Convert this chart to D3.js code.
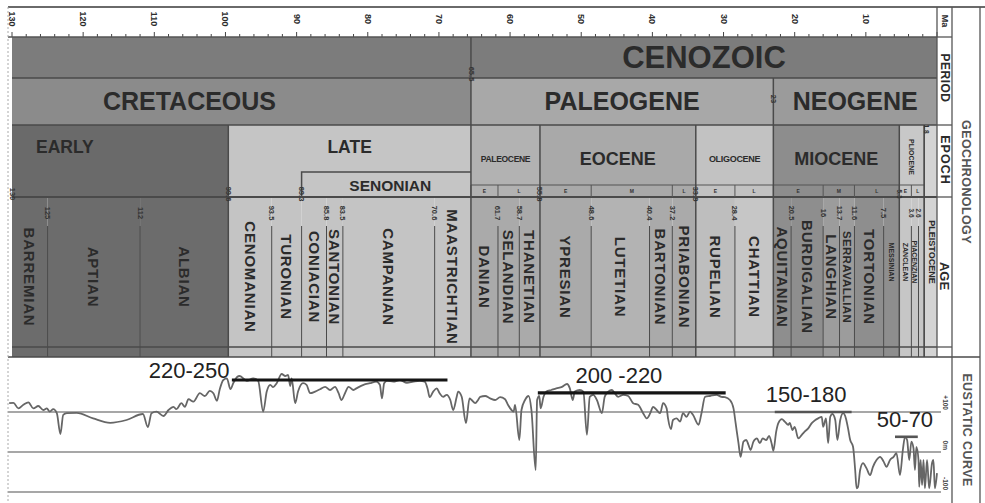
<!DOCTYPE html>
<html>
<head>
<meta charset="utf-8">
<script src="https://cdnjs.cloudflare.com/ajax/libs/d3/7.8.5/d3.min.js"></script>
<style>
body { margin: 0; background: #fff; }
svg { display: block; }
text { font-family: "Liberation Sans", Arial, sans-serif; }
</style>
</head>
<body>
<svg id="chart" width="985" height="503"></svg>
<script>
// ---- data (ages in Ma, sea level in m) ----
const eras = [["", 130, 65.5], ["CENOZOIC", 65.5, 0]];
const periods = [["CRETACEOUS", 130, 65.5], ["PALEOGENE", 65.5, 23], ["NEOGENE", 23, 0]];
const epochs = [["EARLY", 130, 99.6], ["LATE", 99.6, 65.5], ["PALEOCENE", 65.5, 55.8], ["EOCENE", 55.8, 33.9],
  ["OLIGOCENE", 33.9, 23], ["MIOCENE", 23, 5.3], ["PLIOCENE", 5.3, 1.8], ["", 1.8, 0]];
const subEpochs = [["E", 65.5, 61.7], ["L", 61.7, 55.8], ["E", 55.8, 48.6], ["M", 48.6, 37.2], ["L", 37.2, 33.9],
  ["E", 33.9, 28.4], ["L", 28.4, 23], ["E", 23, 16], ["M", 16, 11.6], ["L", 11.6, 5.3], ["E", 5.3, 3.6], ["L", 3.6, 1.8]];
const senonian = ["SENONIAN", 89.3, 65.5];
const stages = [["BARREMIAN", 130, 125], ["APTIAN", 125, 112], ["ALBIAN", 112, 99.6], ["CENOMANIAN", 99.6, 93.5],
  ["TURONIAN", 93.5, 89.3], ["CONIACIAN", 89.3, 85.8], ["SANTONIAN", 85.8, 83.5], ["CAMPANIAN", 83.5, 70.6],
  ["MAASTRICHTIAN", 70.6, 65.5], ["DANIAN", 65.5, 61.7], ["SELANDIAN", 61.7, 58.7], ["THANETIAN", 58.7, 55.8],
  ["YPRESIAN", 55.8, 48.6], ["LUTETIAN", 48.6, 40.4], ["BARTONIAN", 40.4, 37.2], ["PRIABONIAN", 37.2, 33.9],
  ["RUPELIAN", 33.9, 28.4], ["CHATTIAN", 28.4, 23], ["AQUITANIAN", 23, 20.5], ["BURDIGALIAN", 20.5, 16],
  ["LANGHIAN", 16, 13.7], ["SERRAVALLIAN", 13.7, 11.6], ["TORTONIAN", 11.6, 7.5], ["MESSINIAN", 7.5, 5.3],
  ["ZANCLEAN", 5.3, 3.6], ["PIACENZIAN", 3.6, 2.6], ["", 2.6, 1.8], ["PLEISTOCENE", 1.8, 0]];
const boundaryLabels = ["130", "125", "112", "99.6", "93.5", "89.3", "85.8", "83.5", "70.6", "61.7", "58.7", "55.8",
  "48.6", "40.4", "37.2", "33.9", "28.4", "20.5", "16", "13.7", "11.6", "7.5", "5.3", "3.6", "2.6"];
const epochBoundaries = ["130", "99.6", "89.3", "55.8", "33.9", "5.3"];
const maTicks = [130, 120, 110, 100, 90, 80, 70, 60, 50, 40, 30, 20, 10];
const levelTicks = [100, 0, -100];
const levelTickLabels = ["+100", "0m", "-100"];

const curveAge = [130.4,129.8,129.1,128.4,127.7,127.0,126.3,125.6,125.1,124.7,124.2,123.7,123.2,122.8,122.3,120.9,118.6,116.2,113.9,111.6,
  110.9,110.4,109.7,108.7,108.0,107.3,106.9,106.2,105.7,105.2,104.5,103.6,102.9,102.2,101.7,101.2,100.8,100.3,99.8,99.3,98.9,98.4,98.0,97.0,
  96.1,95.4,94.7,94.2,93.7,93.3,92.8,92.1,91.6,91.2,90.9,90.7,90.2,89.8,89.1,88.6,88.1,87.4,86.7,86.0,
  85.3,84.6,84.1,83.7,83.2,82.7,82.0,81.6,80.6,79.7,78.8,78.3,78.0,77.7,77.3,76.4,75.5,74.5,73.6,72.7,
  72.0,71.6,71.3,70.8,70.3,69.9,69.4,68.9,68.4,68.0,67.5,67.3,66.8,66.2,65.7,65.4,64.9,64.5,
  64.2,63.5,62.8,62.1,61.4,60.7,60.3,59.8,59.5,59.3,58.7,58.4,57.9,57.4,57.0,56.4,56.2,55.9,55.7,55.3,
  54.9,54.2,53.5,52.7,52.0,51.6,51.2,50.9,50.2,49.7,49.2,48.8,48.3,47.8,47.1,46.7,46.2,45.7,45.3,44.8,
  44.1,43.4,42.7,42.0,41.3,40.8,40.3,39.9,39.4,38.9,38.5,38.0,37.8,37.4,37.1,36.6,36.1,35.7,35.2,34.7,
  34.3,33.5,33.1,32.6,31.9,31.0,30.3,
  29.8,29.1,28.6,28.3,27.9,27.6,27.2,26.8,26.5,26.2,25.8,25.3,24.9,24.5,24.0,23.6,23.2,23.0,22.6,22.3,
  21.8,21.4,20.9,20.7,20.3,20.0,19.5,19.0,18.6,18.1,17.6,17.1,16.7,16.2,16.0,15.6,15.3,15.0,14.7,14.3,
  14.0,13.6,13.2,12.8,12.5,12.2,11.8,11.5,11.3,11.1,10.8,10.4,9.9,9.4,9.0,8.5,8.0,7.5,7.1,6.6,
  6.1,5.7,5.2,4.8,4.5,4.2,3.9,3.6,3.3,3.1,2.9,2.6,2.5,2.3,2.1,1.9,1.7,1.4,1.1,0.7,0.5,0.3,0.0];
const curveLevel = [122,123,109,118,124,109,115,105,109,101,107,97,45,93,97,98,84,73,80,95,
  62,97,101,90,105,113,107,122,113,132,126,147,140,153,147,128,157,180,184,157,172,187,190,178,
  184,178,101,151,168,162,172,195,190,193,165,184,122,151,172,168,147,151,157,163,
  155,163,147,130,147,163,155,159,168,172,176,168,134,172,178,176,180,173,176,178,
  176,159,137,151,159,147,138,143,130,105,138,151,138,72,134,130,122,130,
  138,140,134,130,137,132,118,105,101,118,30,105,130,140,105,-45,130,140,109,138,
  151,155,159,163,170,159,130,151,155,151,43,138,143,130,97,138,151,155,147,138,
  143,140,122,118,97,84,97,113,105,97,122,109,84,57,80,84,76,97,88,101,
  93,68,97,138,140,143,138,
  137,130,109,72,22,-12,26,30,18,5,26,34,22,34,30,40,18,3,51,72,
  82,76,68,73,55,63,34,43,51,59,72,80,84,88,63,84,22,88,95,80,
  30,80,97,84,59,30,13,-45,-91,-87,-45,-28,-41,-58,-37,-20,-12,-24,-37,-20,
  -12,-3,-58,5,38,30,-20,26,9,-45,13,-20,-87,-20,-83,-20,-91,-20,-91,-28,-20,-91,-53];

// highstand annotations: label, from Ma, to Ma, level (m), label centre Ma
const highstands = [["220-250", 99.1, 68.8, 180, 105.1], ["200 -220", 56.1, 29.7, 148, 44.7],
  ["150-180", 22.8, 12.0, 100, 18.4], ["50-70", 5.9, 2.7, 38, 4.5]];

// ---- styles ----
const fills = {
  era: "#7c7c7c",
  CRETACEOUS: "#8b8b8b", PALEOGENE: "#a8a8a8", NEOGENE: "#9b9b9b",
  EARLY: "#6a6a6a", LATE: "#c5c5c5", PALEOCENE: "#b2b2b2", EOCENE: "#a9a9a9", OLIGOCENE: "#c2c2c2",
  MIOCENE: "#8d8d8d", PLIOCENE: "#c8c8c8", "": "#d4d4d4"
};
const stageFill = d => {
  if (d[1] > 99.6) return "#6c6c6c";
  if (d[1] > 65.5) return "#c4c4c4";
  if (d[1] > 55.8) return "#aaaaaa";
  if (d[1] > 33.9) return d[0] === "LUTETIAN" ? "#b3b3b3" : "#aaaaaa";
  if (d[1] > 23) return d[0] === "RUPELIAN" ? "#bebebe" : "#c6c6c6";
  if (d[1] > 5.3) return (d[0] === "LANGHIAN" || d[0] === "SERRAVALLIAN") ? "#9c9c9c" : "#8e8e8e";
  return d[1] > 1.8 ? "#c6c6c6" : "#d4d4d4";
};
const ink = "#2b2b2b";

const svg = d3.select("#chart");
const x = d3.scaleLinear().domain([130, 0]).range([12, 937]);
const y = d3.scaleLinear().domain([-100, 100]).range([492, 412]);

const rows = { era: [37, 78], period: [78, 125], epoch: [125, 197], age: [197, 347], strip: [347, 357] };

function vtext(g, px, py, s, size, opts) {
  opts = opts || {};
  return g.append("text")
    .attr("transform", "translate(" + px + "," + py + ") rotate(90)")
    .attr("text-anchor", opts.anchor || "middle")
    .attr("dominant-baseline", "central")
    .style("font-size", size + "px")
    .style("font-weight", opts.weight || "bold")
    .style("letter-spacing", (opts.spacing || 0) + "px")
    .attr("fill", opts.fill || ink)
    .text(s);
}

function band(data, row, fillFn) {
  svg.append("g").selectAll("rect").data(data).enter().append("rect")
    .attr("x", d => x(d[1])).attr("width", d => x(d[2]) - x(d[1]))
    .attr("y", rows[row][0]).attr("height", rows[row][1] - rows[row][0])
    .attr("fill", fillFn);
}

// bands
band(eras, "era", () => fills.era);
band(periods, "period", d => fills[d[0]]);
band(epochs, "epoch", d => fills[d[0]]);
band(stages, "age", stageFill);
band(stages, "strip", stageFill);

// Ma ruler
const ruler = svg.append("g");
ruler.selectAll("line").data(d3.range(130, -1, -2)).enter().append("line")
  .attr("x1", d => x(d)).attr("x2", d => x(d))
  .attr("y1", d => d % 10 === 0 ? 32 : 34).attr("y2", 37)
  .attr("stroke", "#444").attr("stroke-width", 1);
maTicks.forEach(t => vtext(ruler, x(t), 19, String(t), 9));
svg.append("line").attr("x1", 8).attr("x2", 937).attr("y1", 37).attr("y2", 37).attr("stroke", "#555").attr("stroke-width", 1.5);

// row separators
[78, 125, 197, 347, 357].forEach(v => {
  svg.append("line").attr("x1", v === 357 ? 8 : 12).attr("x2", v === 357 ? 980 : 937)
    .attr("y1", v).attr("y2", v).attr("stroke", "#4a4a4a").attr("stroke-width", v === 197 ? 2 : 1.5);
});

// era / period / epoch text
svg.append("text").attr("x", (x(65.5) + x(0)) / 2).attr("y", 57).attr("text-anchor", "middle")
  .attr("dominant-baseline", "central").style("font-size", "31px").style("font-weight", "bold")
  .attr("fill", ink).text(eras[1][0]);
svg.append("g").selectAll("text").data(periods).enter().append("text")
  .attr("x", d => d[0] === "CRETACEOUS" ? (x(d[1]) + x(d[2])) / 2 - 52 : (x(d[1]) + x(d[2])) / 2)
  .attr("y", 101).attr("text-anchor", "middle").attr("dominant-baseline", "central")
  .style("font-size", "25px").style("font-weight", "bold").attr("fill", ink).text(d => d[0]);

const epochSize = { EARLY: 17.5, LATE: 17.5, PALEOCENE: 8.5, EOCENE: 18, OLIGOCENE: 9, MIOCENE: 18 };
const eg = svg.append("g");
epochs.forEach(d => {
  if (!epochSize[d[0]]) return;
  const early = d[0] === "EARLY";
  eg.append("text")
    .attr("x", early ? x(d[1]) + 24 : (x(d[1]) + x(d[2])) / 2)
    .attr("y", (early || d[0] === "LATE") ? 147 : 159)
    .attr("text-anchor", early ? "start" : "middle").attr("dominant-baseline", "central")
    .style("font-size", epochSize[d[0]] + "px").style("font-weight", "bold")
    .style("letter-spacing", d[0] === "PALEOCENE" || d[0] === "OLIGOCENE" ? "-0.3px" : "0px")
    .attr("fill", ink).text(d[0]);
});
vtext(eg, (x(5.3) + x(1.8)) / 2, 157, "PLIOCENE", 7);

// Senonian bracket
svg.append("path")
  .attr("d", "M" + x(senonian[1]) + "," + 197 + "V172H" + x(senonian[2]))
  .attr("fill", "none").attr("stroke", "#4a4a4a").attr("stroke-width", 1.5);
svg.append("text").attr("x", (x(senonian[1]) + x(senonian[2])) / 2 + 4).attr("y", 185)
  .attr("text-anchor", "middle").attr("dominant-baseline", "central")
  .style("font-size", "15.5px").style("font-weight", "bold").attr("fill", ink).text(senonian[0]);

// E / M / L sub-epoch strip
const sg = svg.append("g");
sg.append("line").attr("x1", x(65.5)).attr("x2", x(1.8)).attr("y1", 185).attr("y2", 185)
  .attr("stroke", "#555").attr("stroke-width", 1.2);
subEpochs.forEach(d => {
  sg.append("line").attr("x1", x(d[1])).attr("x2", x(d[1])).attr("y1", 185).attr("y2", 197)
    .attr("stroke", "#555").attr("stroke-width", 1);
  sg.append("text").attr("x", (x(d[1]) + x(d[2])) / 2).attr("y", 191)
    .attr("text-anchor", "middle").attr("dominant-baseline", "central")
    .style("font-size", "5px").style("font-weight", "bold").attr("fill", "#333").text(d[0]);
});

// vertical boundaries
const vg = svg.append("g").attr("stroke", "#4a4a4a");
stages.forEach(d => {
  const key = d[1].toString();
  const isEpoch = epochs.some(e => e[1] === d[1]);
  const top = d[1] === 65.5 ? 37 : d[1] === 23 ? 78 : isEpoch ? 125 : (boundaryLabels.indexOf(key) >= 0 ? 226 : 200);
  if (d[1] === 130) return;
  vg.append("line").attr("x1", x(d[1])).attr("x2", x(d[1])).attr("y1", top).attr("y2", 357)
    .attr("stroke-width", isEpoch || d[1] === 65.5 || d[1] === 23 ? 1.5 : 1);
});
vg.append("line").attr("x1", x(1.8)).attr("x2", x(1.8)).attr("y1", 125).attr("y2", 357).attr("stroke-width", 1);

// boundary age labels
const lg = svg.append("g");
boundaryLabels.forEach(s => {
  const high = epochBoundaries.indexOf(s) >= 0;
  const small = +s < 6;
  vtext(lg, x(+s) + (s === "130" ? 0.5 : 0), high ? 194 : 213, s, small ? 6.5 : 7.5, { fill: "#333" });
});
vtext(lg, x(65.5) + 1, 74, "65.5", 7.5, { fill: "#333" });
vtext(lg, x(23), 99, "23", 7.5, { fill: "#333" });
vtext(lg, x(1.8) + 2, 129, "1.8", 6.5, { fill: "#333" });

// stage names
const tg = svg.append("g");
stages.forEach(d => {
  if (!d[0]) return;
  const w = x(d[2]) - x(d[1]);
  const cx = (x(d[1]) + x(d[2])) / 2;
  if (d[0] === "SERRAVALLIAN") {
    vtext(tg, cx, 277, d[0], 11.5, { spacing: 0.3 });
  } else if (w < 16) {
    vtext(tg, cx + (d[0] === "PLEISTOCENE" ? 1 : 0), d[0] === "PLEISTOCENE" ? 252 : 262, d[0], d[0] === "PLEISTOCENE" ? 9 : 7);
  } else {
    vtext(tg, cx, 277, d[0], 15, { spacing: 0.8 });
  }
});

// eustatic panel
const eg2 = svg.append("g");
levelTicks.forEach((v, i) => {
  eg2.append("line").attr("x1", 8).attr("x2", 941).attr("y1", y(v)).attr("y2", y(v))
    .attr("stroke", "#8a8a8a").attr("stroke-width", 1.6);
  vtext(eg2, 945, y(v) - 2, levelTickLabels[i], 6.5, { anchor: "end", fill: "#444" });
});

const line = d3.line().x((d, i) => x(curveAge[i])).y((d, i) => y(curveLevel[i])).curve(d3.curveMonotoneX);
svg.append("path").datum(curveLevel).attr("d", line)
  .attr("fill", "none").attr("stroke", "#666").attr("stroke-width", 1.8).attr("stroke-linejoin", "round");

const hg = svg.append("g");
highstands.forEach((d, i) => {
  hg.append("line").attr("x1", x(d[1])).attr("x2", x(d[2])).attr("y1", y(d[3])).attr("y2", y(d[3]))
    .attr("stroke", i < 2 ? "#151515" : "#555").attr("stroke-width", i < 2 ? 3.2 : 2.6);
  hg.append("text").attr("x", x(d[4])).attr("y", y(d[3]) - (i === 0 ? 2 : 10)).attr("text-anchor", "middle")
    .style("font-size", "22px").attr("fill", "#222").text(d[0]);
});

// right label columns and frame
const fg = svg.append("g").attr("stroke", "#555").attr("fill", "none");
fg.append("line").attr("x1", 8).attr("x2", 985).attr("y1", 7).attr("y2", 7).attr("stroke", "#6a6a6a").attr("stroke-width", 2);
fg.append("line").attr("x1", 937).attr("x2", 937).attr("y1", 7).attr("y2", 357).attr("stroke-width", 1.3);
fg.append("line").attr("x1", 952).attr("x2", 952).attr("y1", 7).attr("y2", 503).attr("stroke-width", 1.3);
fg.append("line").attr("x1", 980).attr("x2", 980).attr("y1", 7).attr("y2", 503).attr("stroke-width", 1.3);
[37, 125, 197, 347].forEach(v => fg.append("line").attr("x1", 937).attr("x2", 952).attr("y1", v).attr("y2", v).attr("stroke-width", 1.3));
fg.append("line").attr("x1", 8).attr("x2", 8).attr("y1", 7).attr("y2", 503)
  .attr("stroke", "#aaa").attr("stroke-dasharray", "2,2").attr("stroke-width", 1);

const rg = svg.append("g");
vtext(rg, 944.5, 21, "Ma", 9);
vtext(rg, 944.5, 78, "PERIOD", 12, { spacing: 0.5 });
vtext(rg, 944.5, 160, "EPOCH", 12.5, { spacing: 1 });
vtext(rg, 944.5, 276, "AGE", 13);
vtext(rg, 966, 182, "GEOCHRONOLOGY", 12.5, { fill: "#555", spacing: 0.4 });
vtext(rg, 967, 430, "EUSTATIC CURVE", 12.5, { fill: "#555", spacing: 0.4 });
</script>
</body>
</html>
